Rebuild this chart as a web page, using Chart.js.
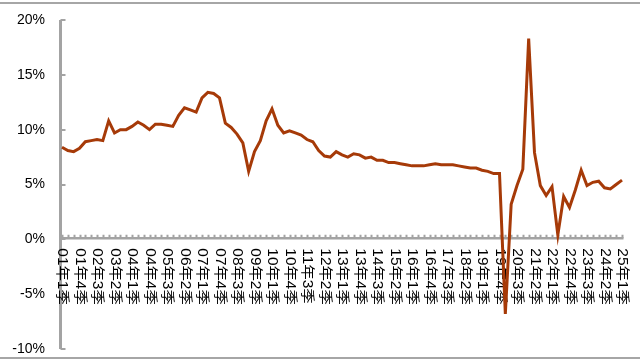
<!DOCTYPE html>
<html>
<head>
<meta charset="utf-8">
<script src="https://cdn.jsdelivr.net/npm/chart.js@4/dist/chart.umd.min.js"></script>
<style>
  html, body { margin: 0; padding: 0; background: #fff; }
  #wrap { width: 640px; height: 361px; position: relative; }
</style>
</head>
<body>
<div id="wrap"><canvas id="c" width="640" height="361"></canvas></div>
<script>
// Quarter categories 2001Q1 .. 2025Q1
const categories = [];
for (let yr = 1; yr <= 25; yr++) {
  for (let q = 1; q <= 4; q++) {
    if (yr === 25 && q > 1) break;
    categories.push(String(yr).padStart(2, '0') + '年' + q + '季');
  }
}
const labelEvery = 3;

// GDP growth (%)
const growth = [
  8.4, 8.1, 8.0, 8.3, 8.9, 9.0, 9.1, 9.0,         // 2001-2002
  10.8, 9.7, 10.0, 10.0, 10.3, 10.7, 10.4, 10.0,  // 2003-2004
  10.5, 10.5, 10.4, 10.3, 11.3, 12.0, 11.8, 11.6, // 2005-2006
  12.9, 13.4, 13.3, 12.9, 10.6, 10.2, 9.6, 8.8,   // 2007-2008
  6.2, 8.0, 9.0, 10.8, 11.9, 10.4, 9.7, 9.9,      // 2009-2010
  9.7, 9.5, 9.1, 8.9, 8.1, 7.6, 7.5, 8.0,         // 2011-2012
  7.7, 7.5, 7.8, 7.7, 7.4, 7.5, 7.2, 7.2,         // 2013-2014
  7.0, 7.0, 6.9, 6.8, 6.7, 6.7, 6.7, 6.8,         // 2015-2016
  6.9, 6.8, 6.8, 6.8, 6.7, 6.6, 6.5, 6.5,         // 2017-2018
  6.3, 6.2, 6.0, 6.0, -6.8, 3.2, 4.9, 6.4,        // 2019-2020
  18.3, 7.9, 4.9, 4.0, 4.8, 0.4, 3.9, 2.9,        // 2021-2022
  4.5, 6.3, 4.9, 5.2, 5.3, 4.7, 4.6, 5.0,         // 2023-2024
  5.4                                             // 2025Q1
];

const yMin = -10, yMax = 20, yStep = 5;

const axesPlugin = {
  id: 'customAxes',
  beforeDatasetsDraw(chart) {
    const { ctx, chartArea } = chart;
    const xs = chart.scales.x, ys = chart.scales.y;
    const gray = '#a3a3a3';
    ctx.save();
    // frame lines
    ctx.strokeStyle = '#a6a6a6';
    ctx.lineWidth = 2;
    ctx.beginPath();
    ctx.moveTo(0, 3); ctx.lineTo(640, 3);
    ctx.moveTo(0, 358); ctx.lineTo(640, 358);
    ctx.stroke();

    // y axis line
    const ax = chartArea.left - 1.5;
    ctx.strokeStyle = gray;
    ctx.lineWidth = 3;
    ctx.beginPath();
    ctx.moveTo(ax, ys.top);
    ctx.lineTo(ax, ys.bottom);
    ctx.stroke();
    // inward tick marks
    ctx.lineWidth = 2;
    ctx.beginPath();
    ys.ticks.forEach((t, i) => {
      const py = Math.round(ys.getPixelForTick(i));
      ctx.moveTo(ax, py); ctx.lineTo(ax + 5, py);
    });
    ctx.stroke();

    // zero axis with upward ticks per quarter
    const y0 = ys.getPixelForValue(0);
    ctx.lineWidth = 2.5;
    ctx.beginPath();
    ctx.moveTo(ax - 1.5, y0 - 1);
    ctx.lineTo(xs.right + 1.5, y0 - 1);
    ctx.stroke();
    ctx.lineWidth = 2;
    ctx.beginPath();
    categories.forEach((c, i) => {
      const px = Math.round(xs.getPixelForValue(i)) + 0.5;
      ctx.moveTo(px, y0 - 1); ctx.lineTo(px, y0 - 4.5);
    });
    ctx.stroke();

    // x labels, rotated clockwise (reading top to bottom)
    ctx.fillStyle = '#000';
    ctx.font = '14px "Liberation Sans", "Noto Sans CJK SC", sans-serif';
    ctx.textAlign = 'left';
    ctx.textBaseline = 'middle';
    categories.forEach((c, i) => {
      if (i % labelEvery !== 0) return;
      const px = xs.getPixelForValue(i);
      ctx.save();
      ctx.translate(px, y0 + 9);
      ctx.rotate(Math.PI / 2);
      ctx.scale(1.1, 1);
      ctx.fillText(c, 0, 0);
      ctx.restore();
    });
    ctx.restore();
  }
};

new Chart(document.getElementById('c'), {
  type: 'line',
  data: {
    labels: categories,
    datasets: [{
      data: growth,
      borderColor: '#a63a08',
      borderWidth: 3,
      pointRadius: 0,
      tension: 0,
      fill: false
    }]
  },
  options: {
    responsive: false,
    devicePixelRatio: 1,
    animation: false,
    layout: { padding: { left: 0, top: 20, right: 18, bottom: 12 } },
    plugins: { legend: { display: false }, tooltip: { enabled: false } },
    scales: {
      x: { type: 'category', display: false, offset: false },
      y: {
        min: yMin, max: yMax,
        afterFit: s => { s.width = 62; s.paddingTop = 0; s.paddingBottom = 0; },
        grid: { display: false, drawTicks: false },
        border: { display: false },
        ticks: {
          stepSize: yStep,
          padding: 17,
          color: '#000',
          font: { family: '"Liberation Sans", sans-serif', size: 14 },
          callback: v => v + '%'
        }
      }
    }
  },
  plugins: [axesPlugin]
});
</script>
</body>
</html>
